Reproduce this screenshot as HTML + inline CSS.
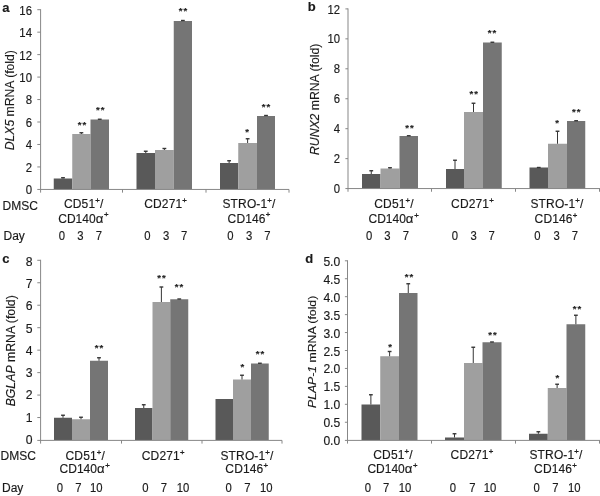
<!DOCTYPE html>
<html lang="en">
<head>
<meta charset="utf-8">
<title>mRNA expression in DMSC populations</title>
<style>
html,body{margin:0;padding:0;background:#fff;}
body{width:600px;height:496px;overflow:hidden;}
svg{display:block;}
text{font-family:"Liberation Sans",sans-serif;fill:#1a1a1a;stroke:#1a1a1a;stroke-width:0.15px;}
.t{font-size:12.0px;}
.n{font-size:11.3px;}
.b{font-size:13px;font-weight:bold;}
.s{font-size:9.6px;font-weight:bold;stroke-width:0.1px;letter-spacing:1px;}
.i{font-style:italic;}
</style>
</head>
<body>
<svg width="600" height="496" viewBox="0 0 600 496">
<rect x="0" y="0" width="600" height="496" fill="#ffffff"/>
<g>
<rect x="53.75" y="178.5" width="18.5" height="10.9" fill="#595959"/>
<path d="M63 178.5V177.75" stroke="#363636" stroke-width="1" fill="none"/><path d="M61.1 177.75H64.9" stroke="#363636" stroke-width="1.4" fill="none"/>
<rect x="72.25" y="134" width="18.25" height="55.4" fill="#9f9f9f"/>
<path d="M81.38 134V132.75" stroke="#363636" stroke-width="1" fill="none"/><path d="M79.47 132.75H83.28" stroke="#363636" stroke-width="1.4" fill="none"/>
<rect x="90.5" y="119.5" width="18.5" height="69.9" fill="#757575"/>
<path d="M99.75 119.5V119.25" stroke="#363636" stroke-width="1" fill="none"/><path d="M97.85 119.25H101.65" stroke="#363636" stroke-width="1.4" fill="none"/>
<rect x="136.5" y="153" width="18.5" height="36.4" fill="#595959"/>
<path d="M145.75 153V151.25" stroke="#363636" stroke-width="1" fill="none"/><path d="M143.85 151.25H147.65" stroke="#363636" stroke-width="1.4" fill="none"/>
<rect x="155" y="150" width="18.75" height="39.4" fill="#9f9f9f"/>
<path d="M164.38 150V148.5" stroke="#363636" stroke-width="1" fill="none"/><path d="M162.47 148.5H166.28" stroke="#363636" stroke-width="1.4" fill="none"/>
<rect x="173.75" y="21" width="18.25" height="168.4" fill="#757575"/>
<path d="M182.88 21V20.5" stroke="#363636" stroke-width="1" fill="none"/><path d="M180.97 20.5H184.78" stroke="#363636" stroke-width="1.4" fill="none"/>
<rect x="220" y="163" width="18.25" height="26.4" fill="#595959"/>
<path d="M229.12 163V160.75" stroke="#363636" stroke-width="1" fill="none"/><path d="M227.22 160.75H231.03" stroke="#363636" stroke-width="1.4" fill="none"/>
<rect x="238.25" y="143" width="18.75" height="46.4" fill="#9f9f9f"/>
<path d="M247.62 143V138.75" stroke="#363636" stroke-width="1" fill="none"/><path d="M245.72 138.75H249.53" stroke="#363636" stroke-width="1.4" fill="none"/>
<rect x="257" y="116" width="18" height="73.4" fill="#757575"/>
<path d="M266 116V115.5" stroke="#363636" stroke-width="1" fill="none"/><path d="M264.1 115.5H267.9" stroke="#363636" stroke-width="1.4" fill="none"/>
<path d="M40.6 9.2V192.65M37.3 189.45H289M37.3 166.94H40.6M37.3 144.47H40.6M37.3 122.01H40.6M37.3 99.55H40.6M37.3 77.09H40.6M37.3 54.62H40.6M37.3 32.16H40.6M37.3 9.7H40.6M122.5 189.45V192.65M206 189.45V192.65M289 189.45V192.65" stroke="#878787" stroke-width="1" fill="none"/>
<text font-size="11.4" transform="translate(32 193.9) scale(1 1.08)" text-anchor="end">0</text>
<text font-size="11.4" transform="translate(32 171.5) scale(1 1.08)" text-anchor="end">2</text>
<text font-size="11.4" transform="translate(32 149.1) scale(1 1.08)" text-anchor="end">4</text>
<text font-size="11.4" transform="translate(32 126.7) scale(1 1.08)" text-anchor="end">6</text>
<text font-size="11.4" transform="translate(32 104.3) scale(1 1.08)" text-anchor="end">8</text>
<text font-size="11.4" transform="translate(32 81.9) scale(1 1.08)" text-anchor="end">10</text>
<text font-size="11.4" transform="translate(32 59.5) scale(1 1.08)" text-anchor="end">12</text>
<text font-size="11.4" transform="translate(32 37.1) scale(1 1.08)" text-anchor="end">14</text>
<text font-size="11.4" transform="translate(32 14.7) scale(1 1.08)" text-anchor="end">16</text>
<text class="b" x="2.2" y="11.7">a</text>
<text font-size="12.2" transform="translate(14 100.2) rotate(-90) scale(1 0.98)" text-anchor="middle"><tspan class="i">DLX5</tspan> mRNA (fold)</text>
<text class="s" x="82.5" y="127.65" text-anchor="middle">**</text>
<text class="s" x="100.8" y="113.25" text-anchor="middle">**</text>
<text class="s" x="183.4" y="14" text-anchor="middle">**</text>
<text class="s" x="247.6" y="134.65" text-anchor="middle">*</text>
<text class="s" x="266.4" y="109.5" text-anchor="middle">**</text>
<text class="t" x="2.5" y="209.6">DMSC</text>
<text class="t" x="3.5" y="239.5">Day</text>
<text class="t" letter-spacing="0.15" x="83.7" y="207.7" text-anchor="middle">CD51<tspan dy="-4.6" font-size="7.8" stroke-width="0.3">+</tspan><tspan dy="4.6">/</tspan></text>
<text class="t" letter-spacing="0.15" x="165.6" y="208" text-anchor="middle">CD271<tspan dy="-4.6" font-size="7.8" stroke-width="0.3">+</tspan></text>
<text class="t" letter-spacing="0.15" x="249" y="207.7" text-anchor="middle">STRO-1<tspan dy="-4.6" font-size="7.8" stroke-width="0.3">+</tspan><tspan dy="4.6">/</tspan></text>
<text class="t" letter-spacing="0" x="83.4" y="222.5" text-anchor="middle">CD140<tspan font-size="13.2">α</tspan><tspan dx="0.7" dy="-5.2" font-size="7.8" stroke-width="0.3">+</tspan></text>
<text class="t" letter-spacing="0.15" x="249" y="222.5" text-anchor="middle">CD146<tspan dy="-5.2" font-size="7.8" stroke-width="0.3">+</tspan></text>
<text class="n" transform="translate(62 239.5) scale(1 1.1)" text-anchor="middle">0</text>
<text class="n" transform="translate(80.5 239.5) scale(1 1.1)" text-anchor="middle">3</text>
<text class="n" transform="translate(99 239.5) scale(1 1.1)" text-anchor="middle">7</text>
<text class="n" transform="translate(147.5 239.5) scale(1 1.1)" text-anchor="middle">0</text>
<text class="n" transform="translate(166.25 239.5) scale(1 1.1)" text-anchor="middle">3</text>
<text class="n" transform="translate(184.25 239.5) scale(1 1.1)" text-anchor="middle">7</text>
<text class="n" transform="translate(230.5 239.5) scale(1 1.1)" text-anchor="middle">0</text>
<text class="n" transform="translate(249.25 239.5) scale(1 1.1)" text-anchor="middle">3</text>
<text class="n" transform="translate(267.5 239.5) scale(1 1.1)" text-anchor="middle">7</text>
</g>
<g>
<rect x="362" y="174" width="18.5" height="14.6" fill="#595959"/>
<path d="M371.25 174V170.75" stroke="#363636" stroke-width="1" fill="none"/><path d="M369.35 170.75H373.15" stroke="#363636" stroke-width="1.4" fill="none"/>
<rect x="380.5" y="168.5" width="19" height="20.1" fill="#9f9f9f"/>
<path d="M390 168.5V167.75" stroke="#363636" stroke-width="1" fill="none"/><path d="M388.1 167.75H391.9" stroke="#363636" stroke-width="1.4" fill="none"/>
<rect x="399.5" y="136" width="18.5" height="52.6" fill="#757575"/>
<path d="M408.75 136V135.75" stroke="#363636" stroke-width="1" fill="none"/><path d="M406.85 135.75H410.65" stroke="#363636" stroke-width="1.4" fill="none"/>
<rect x="446" y="169" width="18" height="19.6" fill="#595959"/>
<path d="M455 169V160.25" stroke="#363636" stroke-width="1" fill="none"/><path d="M453.1 160.25H456.9" stroke="#363636" stroke-width="1.4" fill="none"/>
<rect x="464" y="112" width="19" height="76.6" fill="#9f9f9f"/>
<path d="M473.5 112V103.25" stroke="#363636" stroke-width="1" fill="none"/><path d="M471.6 103.25H475.4" stroke="#363636" stroke-width="1.4" fill="none"/>
<rect x="483" y="42.5" width="18.75" height="146.1" fill="#757575"/>
<path d="M492.38 42.5V42.25" stroke="#363636" stroke-width="1" fill="none"/><path d="M490.48 42.25H494.27" stroke="#363636" stroke-width="1.4" fill="none"/>
<rect x="529.5" y="167.5" width="18.5" height="21.1" fill="#595959"/>
<path d="M538.75 167.5V167.5" stroke="#363636" stroke-width="1" fill="none"/><path d="M536.85 167.5H540.65" stroke="#363636" stroke-width="1.4" fill="none"/>
<rect x="548" y="143.75" width="19" height="44.85" fill="#9f9f9f"/>
<path d="M557.5 143.75V131.25" stroke="#363636" stroke-width="1" fill="none"/><path d="M555.6 131.25H559.4" stroke="#363636" stroke-width="1.4" fill="none"/>
<rect x="567" y="121" width="18.25" height="67.6" fill="#757575"/>
<path d="M576.12 121V120.75" stroke="#363636" stroke-width="1" fill="none"/><path d="M574.23 120.75H578.02" stroke="#363636" stroke-width="1.4" fill="none"/>
<path d="M348 8.4V191.75M345.4 188.55H600M345.4 158.65H348M345.4 128.7H348M345.4 98.75H348M345.4 68.8H348M345.4 38.85H348M345.4 8.9H348M431.5 188.55V191.75M515.5 188.55V191.75M599.5 188.55V191.75" stroke="#878787" stroke-width="1" fill="none"/>
<text font-size="11.3" transform="translate(340.1 193.1) scale(1 1.09)" text-anchor="end">0</text>
<text font-size="11.3" transform="translate(340.1 163.17) scale(1 1.09)" text-anchor="end">2</text>
<text font-size="11.3" transform="translate(340.1 133.23) scale(1 1.09)" text-anchor="end">4</text>
<text font-size="11.3" transform="translate(340.1 103.3) scale(1 1.09)" text-anchor="end">6</text>
<text font-size="11.3" transform="translate(340.1 73.37) scale(1 1.09)" text-anchor="end">8</text>
<text font-size="11.3" transform="translate(340.1 43.43) scale(1 1.09)" text-anchor="end">10</text>
<text font-size="11.3" transform="translate(340.1 13.5) scale(1 1.09)" text-anchor="end">12</text>
<text class="b" x="307.7" y="11.4">b</text>
<text font-size="12.23" transform="translate(319.4 99.35) rotate(-90) scale(1 0.97)" text-anchor="middle"><tspan class="i">RUNX2</tspan> mRNA (fold)</text>
<text class="s" x="410" y="131.25" text-anchor="middle">**</text>
<text class="s" x="474.2" y="97.15" text-anchor="middle">**</text>
<text class="s" x="492.6" y="35.85" text-anchor="middle">**</text>
<text class="s" x="557.6" y="126.35" text-anchor="middle">*</text>
<text class="s" x="576.75" y="114.5" text-anchor="middle">**</text>
<text class="t" letter-spacing="0.15" x="394" y="208" text-anchor="middle">CD51<tspan dy="-4.6" font-size="7.8" stroke-width="0.3">+</tspan><tspan dy="4.6">/</tspan></text>
<text class="t" letter-spacing="0.15" x="472.5" y="208" text-anchor="middle">CD271<tspan dy="-4.6" font-size="7.8" stroke-width="0.3">+</tspan></text>
<text class="t" letter-spacing="0.15" x="557" y="208" text-anchor="middle">STRO-1<tspan dy="-4.6" font-size="7.8" stroke-width="0.3">+</tspan><tspan dy="4.6">/</tspan></text>
<text class="t" letter-spacing="0" x="393.6" y="222.7" text-anchor="middle">CD140<tspan font-size="13.2">α</tspan><tspan dx="0.7" dy="-5.2" font-size="7.8" stroke-width="0.3">+</tspan></text>
<text class="t" letter-spacing="0.15" x="556" y="222.7" text-anchor="middle">CD146<tspan dy="-5.2" font-size="7.8" stroke-width="0.3">+</tspan></text>
<text class="n" transform="translate(369.25 239.5) scale(1 1.1)" text-anchor="middle">0</text>
<text class="n" transform="translate(387.5 239.5) scale(1 1.1)" text-anchor="middle">3</text>
<text class="n" transform="translate(406 239.5) scale(1 1.1)" text-anchor="middle">7</text>
<text class="n" transform="translate(455 239.5) scale(1 1.1)" text-anchor="middle">0</text>
<text class="n" transform="translate(473.75 239.5) scale(1 1.1)" text-anchor="middle">3</text>
<text class="n" transform="translate(491.75 239.5) scale(1 1.1)" text-anchor="middle">7</text>
<text class="n" transform="translate(537.5 239.5) scale(1 1.1)" text-anchor="middle">0</text>
<text class="n" transform="translate(556.75 239.5) scale(1 1.1)" text-anchor="middle">3</text>
<text class="n" transform="translate(575 239.5) scale(1 1.1)" text-anchor="middle">7</text>
</g>
<g>
<rect x="54" y="417.75" width="18" height="22.25" fill="#595959"/>
<path d="M63 417.75V415.25" stroke="#363636" stroke-width="1" fill="none"/><path d="M61.1 415.25H64.9" stroke="#363636" stroke-width="1.4" fill="none"/>
<rect x="72" y="419.25" width="18" height="20.75" fill="#9f9f9f"/>
<path d="M81 419.25V417.25" stroke="#363636" stroke-width="1" fill="none"/><path d="M79.1 417.25H82.9" stroke="#363636" stroke-width="1.4" fill="none"/>
<rect x="90" y="360.75" width="18" height="79.25" fill="#757575"/>
<path d="M99 360.75V357.75" stroke="#363636" stroke-width="1" fill="none"/><path d="M97.1 357.75H100.9" stroke="#363636" stroke-width="1.4" fill="none"/>
<rect x="135" y="408" width="17.5" height="32" fill="#595959"/>
<path d="M143.75 408V404.75" stroke="#363636" stroke-width="1" fill="none"/><path d="M141.85 404.75H145.65" stroke="#363636" stroke-width="1.4" fill="none"/>
<rect x="152.5" y="302" width="17.75" height="138" fill="#9f9f9f"/>
<path d="M161.38 302V287" stroke="#363636" stroke-width="1" fill="none"/><path d="M159.47 287H163.28" stroke="#363636" stroke-width="1.4" fill="none"/>
<rect x="170.25" y="299.25" width="18" height="140.75" fill="#757575"/>
<path d="M179.25 299.25V299" stroke="#363636" stroke-width="1" fill="none"/><path d="M177.35 299H181.15" stroke="#363636" stroke-width="1.4" fill="none"/>
<rect x="215.5" y="399" width="17.5" height="41" fill="#595959"/>
<rect x="233" y="379.5" width="18" height="60.5" fill="#9f9f9f"/>
<path d="M242 379.5V375.25" stroke="#363636" stroke-width="1" fill="none"/><path d="M240.1 375.25H243.9" stroke="#363636" stroke-width="1.4" fill="none"/>
<rect x="251" y="363.5" width="17.75" height="76.5" fill="#757575"/>
<path d="M259.88 363.5V363.25" stroke="#363636" stroke-width="1" fill="none"/><path d="M257.98 363.25H261.77" stroke="#363636" stroke-width="1.4" fill="none"/>
<path d="M40.6 259.8V443.6M37.3 440.4H282M37.3 417.54H40.6M37.3 395.07H40.6M37.3 372.61H40.6M37.3 350.15H40.6M37.3 327.69H40.6M37.3 305.23H40.6M37.3 282.76H40.6M37.3 260.3H40.6M121.5 440.4V443.6M202 440.4V443.6M282 440.4V443.6" stroke="#878787" stroke-width="1" fill="none"/>
<text font-size="12.2" transform="translate(32.6 444) scale(1 1.0)" text-anchor="end">0</text>
<text font-size="12.2" transform="translate(32.6 421.71) scale(1 1.0)" text-anchor="end">1</text>
<text font-size="12.2" transform="translate(32.6 399.43) scale(1 1.0)" text-anchor="end">2</text>
<text font-size="12.2" transform="translate(32.6 377.14) scale(1 1.0)" text-anchor="end">3</text>
<text font-size="12.2" transform="translate(32.6 354.85) scale(1 1.0)" text-anchor="end">4</text>
<text font-size="12.2" transform="translate(32.6 332.56) scale(1 1.0)" text-anchor="end">5</text>
<text font-size="12.2" transform="translate(32.6 310.28) scale(1 1.0)" text-anchor="end">6</text>
<text font-size="12.2" transform="translate(32.6 287.99) scale(1 1.0)" text-anchor="end">7</text>
<text font-size="12.2" transform="translate(32.6 265.7) scale(1 1.0)" text-anchor="end">8</text>
<text class="b" x="2.2" y="263">c</text>
<text font-size="12.27" transform="translate(14.6 350.8) rotate(-90) scale(1 1.0)" text-anchor="middle"><tspan class="i">BGLAP</tspan> mRNA (fold)</text>
<text class="s" x="99.5" y="351.35" text-anchor="middle">**</text>
<text class="s" x="162" y="280.65" text-anchor="middle">**</text>
<text class="s" x="179.6" y="290" text-anchor="middle">**</text>
<text class="s" x="242.75" y="370.25" text-anchor="middle">*</text>
<text class="s" x="260.5" y="357" text-anchor="middle">**</text>
<text class="t" x="0.5" y="459.5">DMSC</text>
<text class="t" x="2" y="492.2">Day</text>
<text class="t" letter-spacing="0.15" x="85.25" y="459.5" text-anchor="middle">CD51<tspan dy="-4.6" font-size="7.8" stroke-width="0.3">+</tspan><tspan dy="4.6">/</tspan></text>
<text class="t" letter-spacing="0.15" x="163.2" y="459.5" text-anchor="middle">CD271<tspan dy="-4.6" font-size="7.8" stroke-width="0.3">+</tspan></text>
<text class="t" letter-spacing="0.15" x="247" y="459.5" text-anchor="middle">STRO-1<tspan dy="-4.6" font-size="7.8" stroke-width="0.3">+</tspan><tspan dy="4.6">/</tspan></text>
<text class="t" letter-spacing="0" x="84.7" y="472.9" text-anchor="middle">CD140<tspan font-size="13.2">α</tspan><tspan dx="0.7" dy="-5.2" font-size="7.8" stroke-width="0.3">+</tspan></text>
<text class="t" letter-spacing="0.15" x="246.75" y="473" text-anchor="middle">CD146<tspan dy="-5.2" font-size="7.8" stroke-width="0.3">+</tspan></text>
<text class="n" transform="translate(60 492.2) scale(1 1.1)" text-anchor="middle">0</text>
<text class="n" transform="translate(78.5 492.2) scale(1 1.1)" text-anchor="middle">7</text>
<text class="n" transform="translate(96.25 492.2) scale(1 1.1)" text-anchor="middle">10</text>
<text class="n" transform="translate(145.5 492.2) scale(1 1.1)" text-anchor="middle">0</text>
<text class="n" transform="translate(164 492.2) scale(1 1.1)" text-anchor="middle">7</text>
<text class="n" transform="translate(183 492.2) scale(1 1.1)" text-anchor="middle">10</text>
<text class="n" transform="translate(228.75 492.2) scale(1 1.1)" text-anchor="middle">0</text>
<text class="n" transform="translate(247.5 492.2) scale(1 1.1)" text-anchor="middle">7</text>
<text class="n" transform="translate(266.25 492.2) scale(1 1.1)" text-anchor="middle">10</text>
</g>
<g>
<rect x="361.5" y="404.5" width="18.75" height="35.7" fill="#595959"/>
<path d="M370.88 404.5V394.75" stroke="#363636" stroke-width="1" fill="none"/><path d="M368.98 394.75H372.77" stroke="#363636" stroke-width="1.4" fill="none"/>
<rect x="380.25" y="356.25" width="18.75" height="83.95" fill="#9f9f9f"/>
<path d="M389.62 356.25V351.5" stroke="#363636" stroke-width="1" fill="none"/><path d="M387.73 351.5H391.52" stroke="#363636" stroke-width="1.4" fill="none"/>
<rect x="399" y="293" width="18.5" height="147.2" fill="#757575"/>
<path d="M408.25 293V283.75" stroke="#363636" stroke-width="1" fill="none"/><path d="M406.35 283.75H410.15" stroke="#363636" stroke-width="1.4" fill="none"/>
<rect x="445" y="437.5" width="19" height="2.7" fill="#595959"/>
<path d="M454.5 437.5V433.75" stroke="#363636" stroke-width="1" fill="none"/><path d="M452.6 433.75H456.4" stroke="#363636" stroke-width="1.4" fill="none"/>
<rect x="464" y="363" width="18.5" height="77.2" fill="#9f9f9f"/>
<path d="M473.25 363V347.25" stroke="#363636" stroke-width="1" fill="none"/><path d="M471.35 347.25H475.15" stroke="#363636" stroke-width="1.4" fill="none"/>
<rect x="482.5" y="342.25" width="19" height="97.95" fill="#757575"/>
<path d="M492 342.25V342" stroke="#363636" stroke-width="1" fill="none"/><path d="M490.1 342H493.9" stroke="#363636" stroke-width="1.4" fill="none"/>
<rect x="529" y="433.75" width="18.75" height="6.45" fill="#595959"/>
<path d="M538.38 433.75V431.75" stroke="#363636" stroke-width="1" fill="none"/><path d="M536.48 431.75H540.27" stroke="#363636" stroke-width="1.4" fill="none"/>
<rect x="547.75" y="388" width="18.75" height="52.2" fill="#9f9f9f"/>
<path d="M557.12 388V384.25" stroke="#363636" stroke-width="1" fill="none"/><path d="M555.23 384.25H559.02" stroke="#363636" stroke-width="1.4" fill="none"/>
<rect x="566.5" y="324.25" width="18.75" height="115.95" fill="#757575"/>
<path d="M575.88 324.25V315.25" stroke="#363636" stroke-width="1" fill="none"/><path d="M573.98 315.25H577.77" stroke="#363636" stroke-width="1.4" fill="none"/>
<path d="M347.5 260.3V443.6M344.9 440.4H600M344.9 422.26H347.5M344.9 404.32H347.5M344.9 386.38H347.5M344.9 368.44H347.5M344.9 350.5H347.5M344.9 332.56H347.5M344.9 314.62H347.5M344.9 296.68H347.5M344.9 278.74H347.5M344.9 260.8H347.5M431.5 440.4V443.6M515.5 440.4V443.6M599.5 440.4V443.6" stroke="#878787" stroke-width="1" fill="none"/>
<text font-size="12.1" transform="translate(340.2 444.8) scale(1 1.03)" text-anchor="end">0.0</text>
<text font-size="12.1" transform="translate(340.2 426.95) scale(1 1.03)" text-anchor="end">0.5</text>
<text font-size="12.1" transform="translate(340.2 409.1) scale(1 1.03)" text-anchor="end">1.0</text>
<text font-size="12.1" transform="translate(340.2 391.25) scale(1 1.03)" text-anchor="end">1.5</text>
<text font-size="12.1" transform="translate(340.2 373.4) scale(1 1.03)" text-anchor="end">2.0</text>
<text font-size="12.1" transform="translate(340.2 355.55) scale(1 1.03)" text-anchor="end">2.5</text>
<text font-size="12.1" transform="translate(340.2 337.7) scale(1 1.03)" text-anchor="end">3.0</text>
<text font-size="12.1" transform="translate(340.2 319.85) scale(1 1.03)" text-anchor="end">3.5</text>
<text font-size="12.1" transform="translate(340.2 302) scale(1 1.03)" text-anchor="end">4.0</text>
<text font-size="12.1" transform="translate(340.2 284.15) scale(1 1.03)" text-anchor="end">4.5</text>
<text font-size="12.1" transform="translate(340.2 266.3) scale(1 1.03)" text-anchor="end">5.0</text>
<text class="b" x="305.2" y="263.1">d</text>
<text font-size="12.26" transform="translate(315.8 351.9) rotate(-90) scale(1 0.96)" text-anchor="middle"><tspan class="i">PLAP-1</tspan> mRNA (fold)</text>
<text class="s" x="390.5" y="349.5" text-anchor="middle">*</text>
<text class="s" x="409.5" y="279.5" text-anchor="middle">**</text>
<text class="s" x="493.1" y="338" text-anchor="middle">**</text>
<text class="s" x="557.75" y="381.15" text-anchor="middle">*</text>
<text class="s" x="577.4" y="312.15" text-anchor="middle">**</text>
<text class="t" letter-spacing="0.15" x="393" y="458.6" text-anchor="middle">CD51<tspan dy="-4.6" font-size="7.8" stroke-width="0.3">+</tspan><tspan dy="4.6">/</tspan></text>
<text class="t" letter-spacing="0.15" x="472" y="458.6" text-anchor="middle">CD271<tspan dy="-4.6" font-size="7.8" stroke-width="0.3">+</tspan></text>
<text class="t" letter-spacing="0.15" x="556" y="458.6" text-anchor="middle">STRO-1<tspan dy="-4.6" font-size="7.8" stroke-width="0.3">+</tspan><tspan dy="4.6">/</tspan></text>
<text class="t" letter-spacing="0" x="392.5" y="473.3" text-anchor="middle">CD140<tspan font-size="13.2">α</tspan><tspan dx="0.7" dy="-5.2" font-size="7.8" stroke-width="0.3">+</tspan></text>
<text class="t" letter-spacing="0.15" x="555.5" y="473.3" text-anchor="middle">CD146<tspan dy="-5.2" font-size="7.8" stroke-width="0.3">+</tspan></text>
<text class="n" transform="translate(368 491.8) scale(1 1.1)" text-anchor="middle">0</text>
<text class="n" transform="translate(386.25 491.8) scale(1 1.1)" text-anchor="middle">7</text>
<text class="n" transform="translate(405 491.8) scale(1 1.1)" text-anchor="middle">10</text>
<text class="n" transform="translate(453 491.8) scale(1 1.1)" text-anchor="middle">0</text>
<text class="n" transform="translate(472.5 491.8) scale(1 1.1)" text-anchor="middle">7</text>
<text class="n" transform="translate(490 491.8) scale(1 1.1)" text-anchor="middle">10</text>
<text class="n" transform="translate(536.75 491.8) scale(1 1.1)" text-anchor="middle">0</text>
<text class="n" transform="translate(555.5 491.8) scale(1 1.1)" text-anchor="middle">7</text>
<text class="n" transform="translate(574.25 491.8) scale(1 1.1)" text-anchor="middle">10</text>
</g>
</svg>
</body>
</html>
